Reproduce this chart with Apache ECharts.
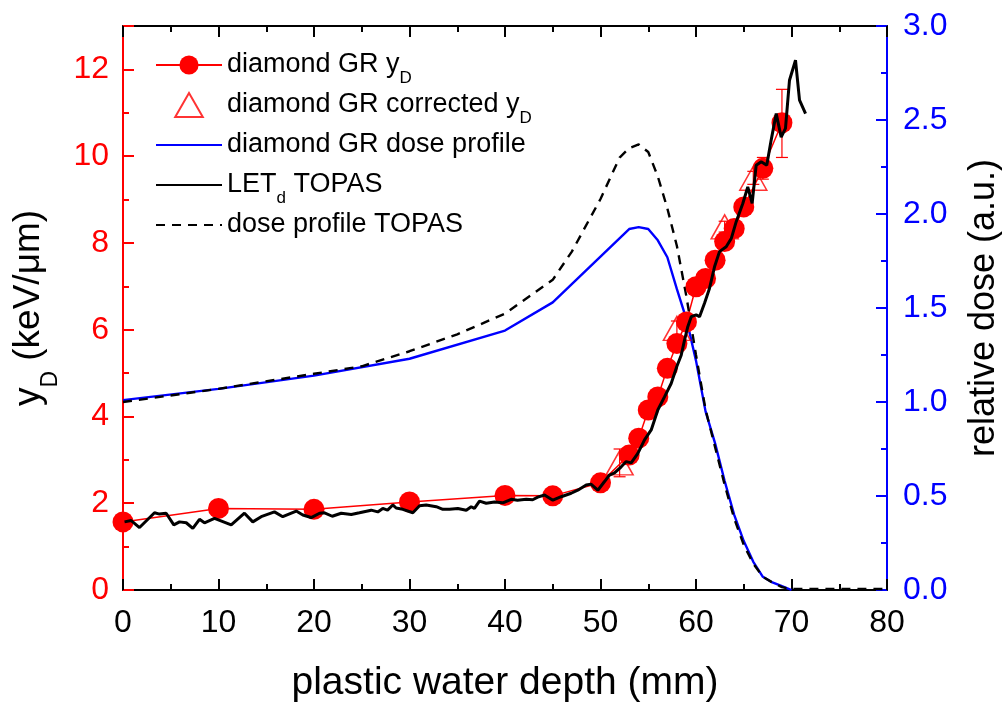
<!DOCTYPE html>
<html><head><meta charset="utf-8">
<script src="https://cdn.jsdelivr.net/npm/echarts@6/dist/echarts.min.js"></script>
<style>html,body{margin:0;padding:0;background:#fff}#c{width:1005px;height:704px}</style>
</head><body><div id="c"></div>
<script>
// ---- data ----
const circX = [0, 10, 20, 30, 40, 45, 50, 53, 54, 55, 56, 57, 58, 59, 60, 61, 62, 63, 64, 65, 67, 69];
const circY = [1.57, 1.88, 1.86, 2.03, 2.18, 2.17, 2.47, 3.11, 3.50, 4.15, 4.45, 5.11, 5.68, 6.18, 6.99, 7.18, 7.60, 8.03, 8.33, 8.83, 9.72, 10.77];
const triX = [52, 58, 63, 66];
const triY = [2.93, 6.03, 8.37, 9.49];
const errX = [52, 58, 63, 66, 67, 69];
const errLo = [2.61, 5.85, 8.25, 9.35, 9.47, 9.97];
const errHi = [3.25, 6.20, 8.50, 9.65, 9.97, 11.54];
const doseX = [0, 10, 20, 30, 40, 45, 53, 54, 55, 56, 57, 58, 59, 60, 61, 62, 63, 64, 65, 66, 67, 68, 69, 70];
const doseY = [1.01, 1.07, 1.14, 1.23, 1.38, 1.53, 1.92, 1.93, 1.92, 1.86, 1.77, 1.60, 1.44, 1.22, 0.95, 0.78, 0.58, 0.40, 0.26, 0.15, 0.07, 0.04, 0.02, 0.0];
const topasDoseX = [0, 10, 20, 25, 30, 35, 40, 45, 47, 50, 52, 53, 54, 55, 56, 57, 58, 59, 60, 61, 62, 63, 64, 65, 66, 67, 68, 69, 70, 75, 80];
const topasDoseY = [1.0, 1.07, 1.15, 1.19, 1.27, 1.36, 1.47, 1.65, 1.80, 2.08, 2.30, 2.35, 2.37, 2.33, 2.20, 2.03, 1.83, 1.56, 1.25, 0.96, 0.76, 0.56, 0.38, 0.24, 0.14, 0.07, 0.04, 0.015, 0.005, 0.005, 0.005];
const letX = [0.16, 0.86, 1.73, 3.30, 3.82, 4.52, 5.32, 5.92, 6.62, 7.31, 8.01, 8.53, 9.58, 11.33, 12.72, 13.59, 14.47, 15.86, 16.73, 18.14, 18.83, 19.71, 20.58, 21.10, 21.91, 22.85, 23.90, 24.76, 25.99, 26.68, 27.20, 27.70, 28.25, 28.60, 29.30, 30.35, 31.05, 31.75, 32.80, 33.49, 34.19, 35.06, 35.94, 36.46, 36.80, 37.33, 38.03, 38.90, 39.77, 40.65, 41.30, 42.22, 42.90, 43.43, 44.14, 45.01, 45.88, 46.93, 47.62, 48.50, 49.00, 49.72, 50.42, 50.94, 51.47, 52.17, 52.69, 53.21, 53.91, 54.61, 55.31, 56.00, 56.70, 57.40, 57.99, 58.45, 58.80, 59.14, 59.50, 60.02, 60.37, 60.89, 61.41, 61.94, 62.46, 63.16, 63.69, 64.21, 64.90, 65.42, 65.88, 66.30, 66.83, 67.41, 67.87, 68.40, 68.92, 69.37, 69.79, 70.42, 70.84, 71.47];
const letY = [1.57, 1.60, 1.44, 1.78, 1.75, 1.77, 1.50, 1.57, 1.55, 1.42, 1.63, 1.55, 1.65, 1.50, 1.77, 1.57, 1.69, 1.80, 1.69, 1.82, 1.73, 1.67, 1.77, 1.78, 1.70, 1.77, 1.74, 1.78, 1.84, 1.80, 1.88, 1.84, 1.96, 1.89, 1.86, 1.78, 1.94, 1.96, 1.92, 1.86, 1.86, 1.88, 1.84, 1.92, 1.88, 2.05, 2.00, 2.03, 2.01, 2.09, 2.07, 2.09, 2.08, 2.14, 2.19, 2.07, 2.15, 2.23, 2.30, 2.42, 2.44, 2.30, 2.50, 2.65, 2.70, 2.84, 2.96, 2.93, 3.15, 3.46, 3.69, 4.15, 4.45, 4.76, 5.15, 5.41, 5.76, 6.07, 6.30, 6.34, 6.30, 6.61, 6.95, 7.45, 7.80, 7.91, 8.10, 8.49, 8.91, 9.29, 8.91, 9.79, 9.87, 9.79, 10.37, 10.98, 10.44, 10.64, 11.75, 12.21, 11.29, 10.98];
const xTickLabels = ['0', '10', '20', '30', '40', '50', '60', '70', '80'];
const leftTickLabels = ['0', '2', '4', '6', '8', '10', '12'];
const rightTickLabels = ['0.0', '0.5', '1.0', '1.5', '2.0', '2.5', '3.0'];

// ---- chart ----
const FF = '"Liberation Sans", Arial, sans-serif';
const zip = (a, b) => a.map((v, i) => [v, b[i]]);
const chart = echarts.init(document.getElementById('c'), null, {renderer: 'canvas'});
const legendText = {
  yD: 'diamond GR y{sub|D}',
  yDc: 'diamond GR corrected y{sub|D}',
  dose: 'diamond GR dose profile',
  let: 'LET{sub|d} TOPAS',
  tdose: 'dose profile TOPAS'
};
const noSym = {color: 'rgba(0,0,0,0)', borderWidth: 0, opacity: 0};
const tickCommon = (c) => ({
  axisLine: {onZero: false, lineStyle: {color: c, width: 2}},
  axisTick: {inside: true, length: 11, lineStyle: {color: c, width: 2}},
  minorTick: {show: true, splitNumber: 2, length: 6, lineStyle: {color: c, width: 2}},
  splitLine: {show: false}
});
chart.setOption({
  animation: false,
  backgroundColor: '#fff',
  grid: {left: 123, right: 118, top: 26, bottom: 114, containLabel: false, outerBoundsMode: 'none'},
  legend: {
    orient: 'vertical', left: 150, top: 38, itemWidth: 66, itemHeight: 24, itemGap: -4,
    data: [
      {name: 'yD'},
      {name: 'yDc', icon: 'path://M0,20 L11.5,0 L23,20 Z'},
      {name: 'dose', itemStyle: noSym},
      {name: 'let', itemStyle: noSym},
      {name: 'tdose', itemStyle: noSym}
    ],
    symbolKeepAspect: true,
    formatter: n => legendText[n],
    textStyle: {fontSize: 27, lineHeight: 44, fontFamily: FF, color: '#000',
      rich: {sub: {fontSize: 17, lineHeight: 16, fontFamily: FF, color: '#000', verticalAlign: 'bottom'}}}
  },
  xAxis: [Object.assign({
    type: 'value', min: 0, max: 80, interval: 10, position: 'bottom',
    name: 'plastic water depth (mm)', nameLocation: 'middle', nameGap: 74,
    nameTextStyle: {fontSize: 39, fontFamily: FF, color: '#000'},
    axisLabel: {fontSize: 32, fontFamily: FF, color: '#000', margin: 17,
      formatter: v => xTickLabels[Math.round(v / 10)] ?? ''}
  }, tickCommon('#000')), Object.assign({
    type: 'value', min: 0, max: 80, interval: 10, position: 'top',
    axisLabel: {show: false}
  }, tickCommon('#000'))],
  yAxis: [Object.assign({
    type: 'value', min: 0, max: 13, interval: 2, position: 'left',
    name: 'y{sub|D} (keV/μm)', nameLocation: 'middle', nameGap: 61, nameRotate: 90,
    nameTextStyle: {fontSize: 37, fontFamily: FF, color: '#000',
      rich: {sub: {fontSize: 23, fontFamily: FF, color: '#000', verticalAlign: 'bottom', padding: [0, 0, -15, 0]}}},
    axisLabel: {fontSize: 32, fontFamily: FF, color: '#ff0000', margin: 14, showMaxLabel: false,
      formatter: v => leftTickLabels[Math.round(v / 2)] ?? ''}
  }, tickCommon('#ff0000')), Object.assign({
    type: 'value', min: 0, max: 3, interval: 0.5, position: 'right',
    name: 'relative dose (a.u.)', nameLocation: 'middle', nameGap: 79, nameRotate: 90,
    nameTextStyle: {fontSize: 36, fontFamily: FF, color: '#000'},
    axisLabel: {fontSize: 32, fontFamily: FF, color: '#0000ff', margin: 16,
      formatter: v => rightTickLabels[Math.round(v * 2)] ?? ''}
  }, tickCommon('#0000ff'))],
  series: [{
    name: 'yD', type: 'line', xAxisIndex: 0, yAxisIndex: 0, data: zip(circX, circY),
    symbol: 'circle', symbolSize: 21, showAllSymbol: true, z: 2,
    itemStyle: {color: '#ff0000'}, lineStyle: {color: '#ff0000', width: 1.5}
  }, {
    name: 'yDc', type: 'scatter', xAxisIndex: 0, yAxisIndex: 0, data: zip(triX, triY),
    symbol: 'triangle', symbolSize: [27, 24], z: 3,
    itemStyle: {color: 'rgba(255,255,255,0)', borderColor: '#ff0000', borderWidth: 1.5}
  }, {
    name: 'dose', type: 'line', xAxisIndex: 0, yAxisIndex: 1, data: zip(doseX, doseY),
    symbol: 'none', z: 2, itemStyle: {color: '#0000ff'}, lineStyle: {color: '#0000ff', width: 2.4}
  }, {
    name: 'let', type: 'line', xAxisIndex: 0, yAxisIndex: 0, data: zip(letX, letY),
    symbol: 'none', z: 4, itemStyle: {color: '#000'}, lineStyle: {color: '#000', width: 3}
  }, {
    name: 'tdose', type: 'line', xAxisIndex: 0, yAxisIndex: 1, data: zip(topasDoseX, topasDoseY),
    symbol: 'none', z: 2, itemStyle: {color: '#000'}, lineStyle: {color: '#000', width: 2.4, type: [9, 7]}
  }, {
    name: 'err', type: 'custom', xAxisIndex: 0, yAxisIndex: 0,
    data: errX.map((x, i) => [x, errLo[i], errHi[i]]),
    encode: {x: 0, y: [1, 2]}, z: 3,
    renderItem: (params, api) => {
      const x = api.value(0);
      const p1 = api.coord([x, api.value(1)]);
      const p2 = api.coord([x, api.value(2)]);
      const w = 6;
      const st = {stroke: '#ff0000', lineWidth: 1.2};
      return {type: 'group', children: [
        {type: 'line', shape: {x1: p1[0], y1: p1[1], x2: p2[0], y2: p2[1]}, style: st},
        {type: 'line', shape: {x1: p1[0] - w, y1: p1[1], x2: p1[0] + w, y2: p1[1]}, style: st},
        {type: 'line', shape: {x1: p2[0] - w, y1: p2[1], x2: p2[0] + w, y2: p2[1]}, style: st}
      ]};
    }
  }]
});
</script></body></html>
